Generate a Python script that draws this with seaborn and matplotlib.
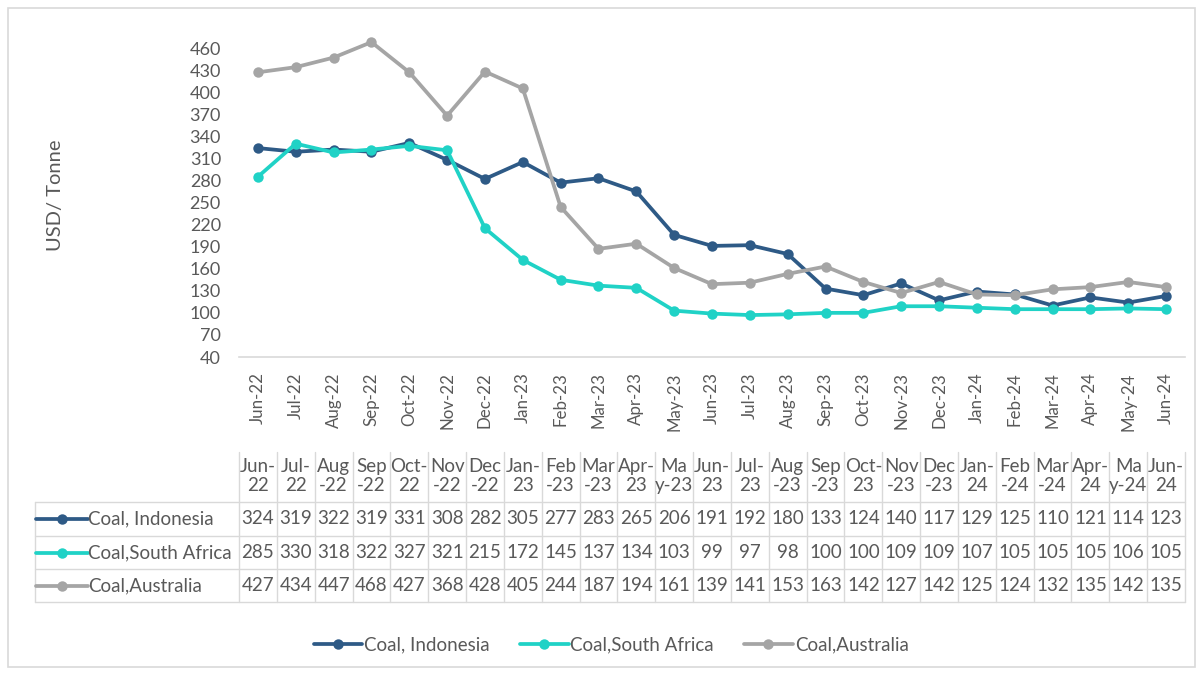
import numpy as np
import pandas as pd
import matplotlib
matplotlib.use("Agg")
import matplotlib.pyplot as plt
import seaborn as sns
from matplotlib.lines import Line2D
from matplotlib.patches import Rectangle
from matplotlib.transforms import blended_transform_factory

# ---- data -------------------------------------------------------------
months = ["Jun-22", "Jul-22", "Aug-22", "Sep-22", "Oct-22", "Nov-22", "Dec-22",
          "Jan-23", "Feb-23", "Mar-23", "Apr-23", "May-23", "Jun-23", "Jul-23",
          "Aug-23", "Sep-23", "Oct-23", "Nov-23", "Dec-23", "Jan-24", "Feb-24",
          "Mar-24", "Apr-24", "May-24", "Jun-24"]
indonesia = [324, 319, 322, 319, 331, 308, 282, 305, 277, 283, 265, 206, 191,
             192, 180, 133, 124, 140, 117, 129, 125, 110, 121, 114, 123]
south_africa = [285, 330, 318, 322, 327, 321, 215, 172, 145, 137, 134, 103, 99,
                97, 98, 100, 100, 109, 109, 107, 105, 105, 105, 106, 105]
australia = [427, 434, 447, 468, 427, 368, 428, 405, 244, 187, 194, 161, 139,
             141, 153, 163, 142, 127, 142, 125, 124, 132, 135, 142, 135]
series_names = ["Coal, Indonesia", "Coal,South Africa", "Coal,Australia"]
series_values = [indonesia, south_africa, australia]
y_ticks = list(range(40, 461, 30))
y_label = "USD/ Tonne"

# ---- style ------------------------------------------------------------
sns.set_theme(style="white")
plt.rcParams["font.family"] = ["Lato", "DejaVu Sans"]
colors = ["#2E5A86", "#20D2C6", "#A5A5A5"]
text_color = "#595959"
grid_color = "#D9D9D9"
fs = 13.5
lw = 2.7
ms = 7.5

W, H = 1203, 673
fig = plt.figure(figsize=(W / 100, H / 100), dpi=100)

# axes placed in pixel terms
ax_left, ax_right, ax_top, ax_bottom = 239, 1185, 30, 357
ax = fig.add_axes([ax_left / W, 1 - ax_bottom / H,
                   (ax_right - ax_left) / W, (ax_bottom - ax_top) / H])

df = pd.DataFrame({
    "pos": np.tile(np.arange(len(months)), len(series_names)),
    "value": np.concatenate(series_values),
    "series": np.repeat(series_names, len(months)),
})
sns.lineplot(data=df, x="pos", y="value", hue="series", hue_order=series_names,
             palette=colors, marker="o", markersize=ms, markeredgewidth=0,
             linewidth=lw, legend=False, ax=ax)

ax.set_xlim(-0.5, len(months) - 0.5)
ax.set_ylim(40, 484.5)
ax.set_yticks(y_ticks)
ax.set_yticklabels([str(v) for v in y_ticks], fontsize=13, color=text_color)
ax.set_xticks(np.arange(len(months)))
ax.set_xticklabels(months, rotation=90, fontsize=12.2, color=text_color)
ax.set_xticks(np.arange(len(months) + 1) - 0.5, minor=True)
ax.tick_params(axis="x", which="major", length=0, pad=11)
ax.tick_params(axis="x", which="minor", length=5, color=grid_color, direction="out")
ax.tick_params(axis="y", length=0, pad=13)
for side in ["top", "right", "left"]:
    ax.spines[side].set_visible(False)
ax.spines["bottom"].set_color(grid_color)
ax.spines["bottom"].set_linewidth(1.2)
ax.set_xlabel("")
ax.set_ylabel("")
ax.grid(False)

fig.text(55 / W, 1 - 195 / H, y_label, rotation=90, ha="center", va="center",
         fontsize=14.5, color=text_color)

# ---- data table below the axis ----------------------------------------
tr = blended_transform_factory(ax.transData, fig.transFigure)
fy = lambda py: 1 - py / H

wide = {"Aug", "Sep", "Nov", "Dec", "Feb", "Mar"}
def header(m):
    mon, yy = m.split("-")
    if mon == "May":
        return "Ma\ny-" + yy
    if mon in wide:
        return mon + "\n-" + yy
    return mon + "-\n" + yy

tbl_top = 452
row_edges = [502, 536, 569, 602]
for i, m in enumerate(months):
    fig.text(i, fy((tbl_top + row_edges[0]) / 2 - 1), header(m), transform=tr,
             ha="center", va="center", fontsize=fs, color=text_color,
             linespacing=1.2)
for b in np.arange(len(months) + 1) - 0.5:
    fig.add_artist(Line2D([b, b], [fy(tbl_top), fy(row_edges[-1])], transform=tr,
                          color=grid_color, lw=1))
for yy in row_edges:
    fig.add_artist(Line2D([35 / W, ax_right / W], [fy(yy), fy(yy)],
                          color=grid_color, lw=1))
fig.add_artist(Line2D([35 / W, 35 / W], [fy(row_edges[0]), fy(row_edges[-1])],
                      color=grid_color, lw=1))

for r, (name, vals, col) in enumerate(zip(series_names, series_values, colors)):
    yc = fy((row_edges[r] + row_edges[r + 1]) / 2)
    fig.add_artist(Line2D([36 / W, 88 / W], [yc, yc], color=col, lw=lw))
    fig.add_artist(Line2D([62 / W], [yc], color=col, marker="o", markersize=ms,
                          markeredgewidth=0))
    fig.text(88 / W, yc, name, ha="left", va="center", fontsize=fs,
             color=text_color)
    for i, v in enumerate(vals):
        fig.text(i, yc, str(v), transform=tr, ha="center", va="center",
                 fontsize=fs, color=text_color)

# ---- legend -----------------------------------------------------------
handles = [Line2D([0], [0], color=c, lw=lw, marker="o", markersize=ms,
                  markeredgewidth=0) for c in colors]
fig.legend(handles, series_names, loc="center", bbox_to_anchor=(611 / W, fy(645)),
           ncol=3, frameon=False, fontsize=fs, handlelength=2.6,
           handletextpad=0.1, columnspacing=1.6, labelcolor=text_color)

# outer frame
fig.add_artist(Rectangle((8 / W, fy(667)), (1195 - 8) / W, (667 - 8) / H,
                         fill=False, edgecolor=grid_color, lw=1.2))

fig.savefig("out.png", dpi=100)
